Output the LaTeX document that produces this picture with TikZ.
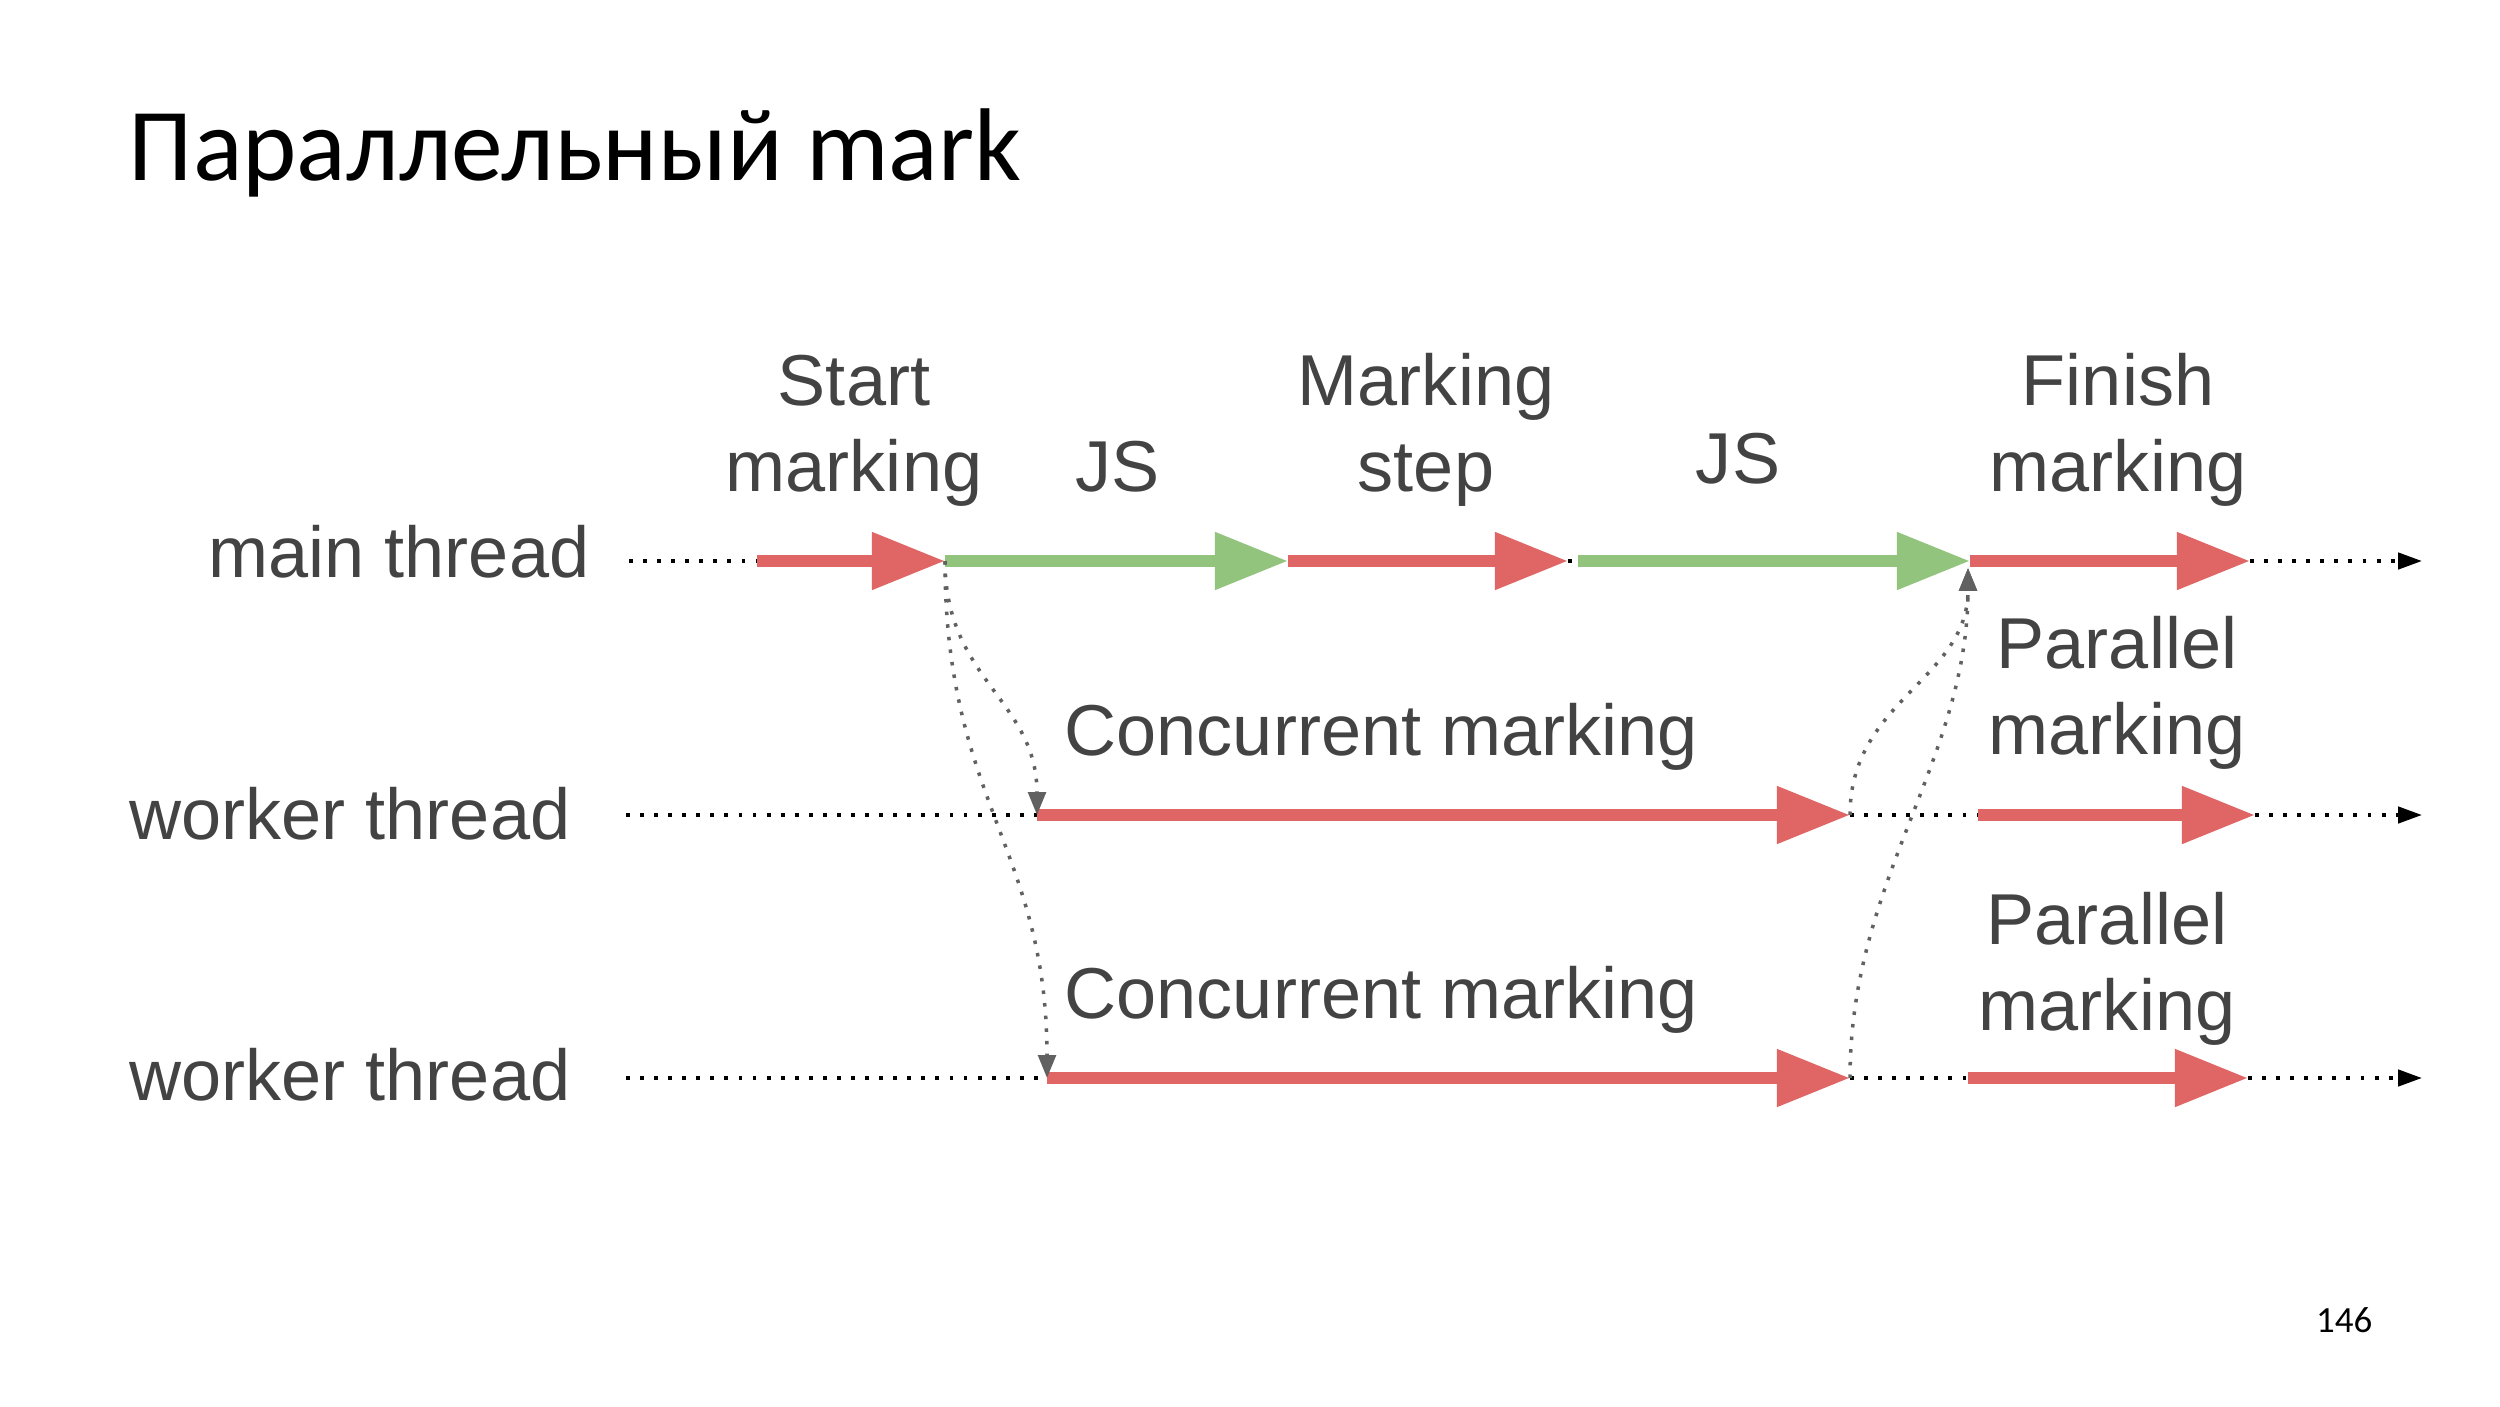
\documentclass[tikz,border=0pt]{standalone}
\usepackage{fontspec}
\setmainfont{Liberation Sans}
\newfontfamily\slidefont{Carlito}
\usetikzlibrary{arrows.meta}
\definecolor{markred}{HTML}{E06666}
\definecolor{jsgreen}{HTML}{93C47D}
\definecolor{labelgray}{HTML}{434343}
\definecolor{linkgray}{HTML}{616161}

\begin{document}
\begin{tikzpicture}[x=0.01cm, y=-0.01cm,
	redseg/.style={draw=markred, line width=3.4pt, -{Triangle[length=20.8pt,width=15.6pt]}},
	greenseg/.style={draw=jsgreen, line width=3.4pt, -{Triangle[length=20.8pt,width=15.6pt]}},
	idle/.style={line width=1.1pt, dash pattern=on 1.1pt off 2.9pt},
	idleend/.style={idle, -{Triangle[length=6.8pt,width=4.6pt]}},
	handoff/.style={draw=linkgray, line width=1pt, dash pattern=on 1pt off 2.6pt, -{Triangle[length=6.5pt,width=5pt]}},
	lbl/.style={text=labelgray, font=\fontsize{20.5}{24.2}\selectfont, align=center, inner sep=0pt}]

	\useasboundingbox (0,0) rectangle (2500,1406);

	\node[anchor=base west, inner sep=0pt, font=\slidefont\fontsize{29.4}{34}\selectfont] (title) at (128,180) {Параллельный mark};
	\node[anchor=base east, inner sep=0pt, font=\slidefont\fontsize{10.5}{12}\selectfont] (page) at (2373,1332) {146};

	\node[lbl, anchor=base east] (mainlbl) at (590,577) {main thread};
	\node[lbl, anchor=base east] (worker1lbl) at (571,839) {worker thread};
	\node[lbl, anchor=base east] (worker2lbl) at (571,1100) {worker thread};

	% main thread
	\coordinate (m0) at (629,561);
	\coordinate (m1) at (757,561);
	\coordinate (m2) at (945,561);
	\coordinate (m3) at (1288,561);
	\coordinate (m4) at (1568,561);
	\coordinate (m5) at (1578,561);
	\coordinate (m6) at (1970,561);
	\coordinate (m7) at (2250,561);
	\coordinate (m8) at (2422,561);
	\coordinate (mjoin) at (1968,568);

	\draw[idle] (m0) -- (m1);
	\draw[redseg] (m1) -- (m2);
	\draw[greenseg] (m2) -- (m3);
	\draw[redseg] (m3) -- (m4);
	\draw[idle] (m4) -- (m5);
	\draw[greenseg] (m5) -- (m6);
	\draw[redseg] (m6) -- (m7);
	\draw[idleend] (m7) -- (m8);

	% worker threads
	\coordinate (a0) at (626,815);
	\coordinate (a1) at (1037,815);
	\coordinate (a2) at (1850,815);
	\coordinate (a3) at (1978,815);
	\coordinate (a4) at (2255,815);
	\coordinate (a5) at (2422,815);

	\draw[idle] (a0) -- (a1);
	\draw[redseg] (a1) -- (a2);
	\draw[idle] (a2) -- (a3);
	\draw[redseg] (a3) -- (a4);
	\draw[idleend] (a4) -- (a5);

	\coordinate (b0) at (626,1078);
	\coordinate (b1) at (1047,1078);
	\coordinate (b2) at (1850,1078);
	\coordinate (b3) at (1968,1078);
	\coordinate (b4) at (2248,1078);
	\coordinate (b5) at (2422,1078);

	\draw[idle] (b0) -- (b1);
	\draw[redseg] (b1) -- (b2);
	\draw[idle] (b2) -- (b3);
	\draw[redseg] (b3) -- (b4);
	\draw[idleend] (b4) -- (b5);

	% hand-offs
	\draw[handoff] (m2) .. controls (945,680) and (1037,700) .. (a1);
	\draw[handoff] (m2) .. controls (945,800) and (1047,850) .. (b1);
	\draw[handoff] (a2) .. controls (1850,700) and (1968,680) .. (mjoin);
	\draw[handoff] (b2) .. controls (1850,880) and (1968,760) .. (mjoin);

	\node[lbl, anchor=base] (startlbl) at (854,491) {Start\\marking};
	\node[lbl, anchor=base] (js1lbl) at (1118,491) {JS};
	\node[lbl, anchor=base] (steplbl) at (1426,491) {Marking\\step};
	\node[lbl, anchor=base] (js2lbl) at (1738,483) {JS};
	\node[lbl, anchor=base] (finishlbl) at (2118,491) {Finish\\marking};

	\node[lbl, anchor=base west] (conc1lbl) at (1064,755) {Concurrent marking};
	\node[lbl, anchor=base] (par1lbl) at (2117,754) {Parallel\\marking};
	\node[lbl, anchor=base west] (conc2lbl) at (1064,1018) {Concurrent marking};
	\node[lbl, anchor=base] (par2lbl) at (2107,1030) {Parallel\\marking};
\end{tikzpicture}
\end{document}
